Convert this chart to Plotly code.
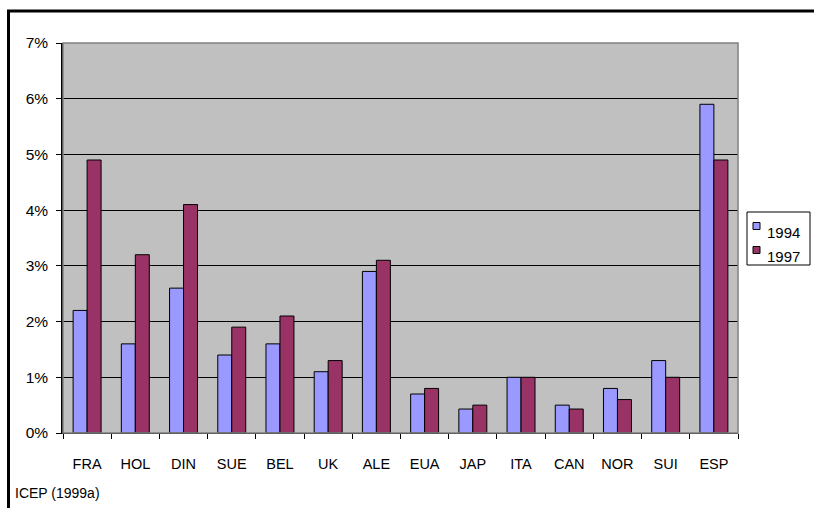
import plotly.graph_objects as go

# Market share by country, 1994 vs 1997 (%)
countries = ["FRA", "HOL", "DIN", "SUE", "BEL", "UK", "ALE",
             "EUA", "JAP", "ITA", "CAN", "NOR", "SUI", "ESP"]
share_1994 = [2.2, 1.6, 2.6, 1.4, 1.6, 1.1, 2.9, 0.7, 0.43, 1.0, 0.5, 0.8, 1.3, 5.9]
share_1997 = [4.9, 3.2, 4.1, 1.9, 2.1, 1.3, 3.1, 0.8, 0.5, 1.0, 0.43, 0.6, 1.0, 4.9]
y_ticks = [0, 1, 2, 3, 4, 5, 6, 7]
y_labels = [f"{v}%" for v in y_ticks]
series_names = ["1994", "1997"]
series_colors = ["#9999FF", "#993366"]

FONT = "Arial, Liberation Sans, sans-serif"

fig = go.Figure()
for name, vals, col in zip(series_names, [share_1994, share_1997], series_colors):
    fig.add_trace(go.Bar(x=countries, y=vals, name=name,
                         marker=dict(color=col, line=dict(color="black", width=1))))

W, H = 814, 508
L, R, T, B = 63, 76, 43, 75
pw, ph = W - L - R, H - T - B


def px_x(x):
    return (x - L) / pw


def px_y(y):
    return (H - B - y) / ph


shapes = [
    # plot-area frame (grey), covering the top grid line
    dict(type="rect", xref="paper", yref="paper", x0=0, x1=1, y0=0, y1=1,
         line=dict(color="#808080", width=1.5), layer="above"),
    # outer chart frame
    dict(type="rect", xref="paper", yref="paper",
         x0=px_x(8.5), x1=px_x(830), y0=px_y(11), y1=px_y(530),
         line=dict(color="black", width=3)),
    # compact legend box
    dict(type="rect", xref="paper", yref="paper",
         x0=px_x(747), x1=px_x(810), y0=px_y(212), y1=px_y(265),
         line=dict(color="black", width=1), fillcolor="white"),
]
annotations = [
    dict(text="ICEP (1999a)", xref="paper", yref="paper",
         x=px_x(13), y=px_y(493), xanchor="left", yanchor="middle",
         showarrow=False, font=dict(size=14)),
]
for i, (name, col) in enumerate(zip(series_names, series_colors)):
    cy = 226 + i * 24
    shapes.append(dict(type="rect", xref="paper", yref="paper",
                       x0=px_x(753), x1=px_x(760), y0=px_y(cy - 3.5), y1=px_y(cy + 3.5),
                       line=dict(color="black", width=1), fillcolor=col))
    annotations.append(dict(text=name, xref="paper", yref="paper",
                            x=px_x(765), y=px_y(cy + 6), xanchor="left", yanchor="middle",
                            showarrow=False, font=dict(size=15)))

fig.update_layout(
    width=W, height=H,
    margin=dict(l=L, r=R, t=T, b=B, autoexpand=False),
    paper_bgcolor="white",
    plot_bgcolor="#C0C0C0",
    barmode="group",
    bargap=0.42,
    bargroupgap=0,
    font=dict(family=FONT, size=13, color="black"),
    showlegend=False,
    xaxis=dict(
        showgrid=False, showline=True, linecolor="black", linewidth=1,
        ticks="outside", tickson="boundaries", ticklen=5, tickcolor="black",
        ticklabelstandoff=18, tickfont=dict(size=14.5),
    ),
    yaxis=dict(
        range=[0, 7], tickvals=y_ticks, ticktext=y_labels,
        showgrid=True, gridcolor="black", gridwidth=1.2,
        showline=True, linecolor="black", linewidth=1.5,
        ticks="outside", ticklen=5, tickcolor="black",
        ticklabelstandoff=5, tickfont=dict(size=15.5), zeroline=False,
    ),
    shapes=shapes,
    annotations=annotations,
)

fig.write_html("out.html")
